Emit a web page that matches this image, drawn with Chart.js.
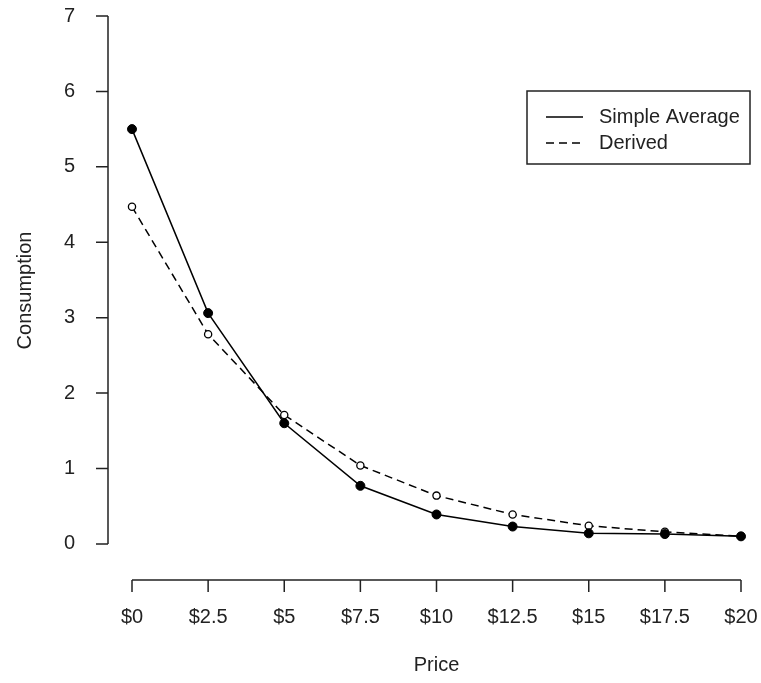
<!DOCTYPE html>
<html>
<head>
<meta charset="utf-8">
<script src="https://cdn.jsdelivr.net/npm/chart.js@4.4.1/dist/chart.umd.min.js"></script>
<style>
  html, body { margin: 0; padding: 0; background: #fff; }
  #wrap { width: 761px; height: 683px; position: relative; }
</style>
</head>
<body>
<div id="wrap"><canvas id="myChart"></canvas></div>
<script>
// Data
const prices = [0, 2.5, 5, 7.5, 10, 12.5, 15, 17.5, 20];
const simpleAverage = [5.5, 3.06, 1.6, 0.77, 0.39, 0.23, 0.14, 0.13, 0.1];
const derived = [4.47, 2.78, 1.71, 1.04, 0.64, 0.39, 0.24, 0.16, 0.1];
const xTicks = [0, 2.5, 5, 7.5, 10, 12.5, 15, 17.5, 20];
const yTicks = [0, 1, 2, 3, 4, 5, 6, 7];

const FONT = "'Liberation Sans', Arial, sans-serif";
const INK = '#222';

// R-style detached axes + boxed legend
const rAxes = {
    id: 'rAxes',
    afterDraw(chart) {
        const { ctx, chartArea, scales: { x, y } } = chart;
        ctx.save();
        ctx.strokeStyle = INK;
        ctx.lineWidth = 1.5;

        // y axis, sits a bit left of the plot
        const yx = chartArea.left - 24;
        ctx.beginPath();
        ctx.moveTo(yx, y.getPixelForValue(yTicks[0]));
        ctx.lineTo(yx, y.getPixelForValue(yTicks[yTicks.length - 1]));
        yTicks.forEach(v => {
            const py = y.getPixelForValue(v);
            ctx.moveTo(yx, py);
            ctx.lineTo(yx - 12, py);
        });
        ctx.stroke();

        // x axis, sits below the plot
        const xy = chartArea.bottom + 15;
        ctx.beginPath();
        ctx.moveTo(x.getPixelForValue(xTicks[0]), xy);
        ctx.lineTo(x.getPixelForValue(xTicks[xTicks.length - 1]), xy);
        xTicks.forEach(v => {
            const px = x.getPixelForValue(v);
            ctx.moveTo(px, xy);
            ctx.lineTo(px, xy + 12);
        });
        ctx.stroke();

        // legend box
        const bx = 527, by = 91, bw = 223, bh = 73;
        ctx.lineWidth = 1.5;
        ctx.strokeRect(bx, by, bw, bh);
        ctx.font = '20px ' + FONT;
        ctx.fillStyle = INK;
        ctx.textBaseline = 'middle';
        chart.data.datasets.forEach((ds, i) => {
            const ly = by + 26 + i * 26;
            ctx.beginPath();
            ctx.setLineDash(ds.borderDash || []);
            ctx.lineWidth = ds.borderWidth;
            ctx.strokeStyle = ds.borderColor;
            ctx.moveTo(bx + 19, ly);
            ctx.lineTo(bx + 56, ly);
            ctx.stroke();
            ctx.setLineDash([]);
            ctx.fillText(ds.label, bx + 72, ly);
        });
        ctx.restore();
    }
};

// keep tick labels from pushing the plot area around
function noPad(s) {
    s.paddingTop = 0;
    s.paddingBottom = 0;
    s.paddingLeft = 0;
    s.paddingRight = 0;
}

const ctx = document.getElementById('myChart').getContext('2d');

const chart = new Chart(ctx, {
    type: 'line',
    data: {
        labels: prices,
        datasets: [{
            label: 'Simple Average',
            data: prices.map((p, i) => ({ x: p, y: simpleAverage[i] })),
            borderColor: '#000',
            backgroundColor: '#000',
            borderWidth: 1.5,
            pointRadius: 4.5,
            pointBorderWidth: 1,
            pointBackgroundColor: '#000',
            pointBorderColor: '#000',
            tension: 0,
            clip: false
        }, {
            label: 'Derived',
            data: prices.map((p, i) => ({ x: p, y: derived[i] })),
            borderColor: '#000',
            backgroundColor: '#fff',
            borderWidth: 1.5,
            borderDash: [8, 5],
            pointRadius: 3.6,
            pointBorderWidth: 1.3,
            pointBackgroundColor: '#fff',
            pointBorderColor: '#000',
            tension: 0,
            clip: false
        }]
    },
    options: {
        responsive: true,
        maintainAspectRatio: false,
        animation: false,
        layout: {
            padding: { top: 16, right: 20, left: 0, bottom: 0 }
        },
        scales: {
            x: {
                type: 'linear',
                min: 0,
                max: 20,
                afterBuildTicks: s => { s.ticks = xTicks.map(v => ({ value: v })); },
                afterFit: s => { s.height = 118; noPad(s); },
                grid: { display: false },
                border: { display: false },
                ticks: {
                    padding: 32,
                    maxRotation: 0,
                    autoSkip: false,
                    color: INK,
                    font: { family: FONT, size: 20 },
                    callback: v => '$' + v
                },
                title: {
                    display: true,
                    text: 'Price',
                    color: INK,
                    font: { family: FONT, size: 20 },
                    padding: { top: 0, bottom: 6 }
                }
            },
            y: {
                type: 'linear',
                min: -0.28,
                max: 7,
                afterBuildTicks: s => { s.ticks = yTicks.map(v => ({ value: v })); },
                afterFit: s => { s.width = 132; noPad(s); },
                grid: { display: false },
                border: { display: false },
                ticks: {
                    padding: 49,
                    color: INK,
                    font: { family: FONT, size: 20 }
                },
                title: {
                    display: true,
                    text: 'Consumption',
                    color: INK,
                    font: { family: FONT, size: 20 },
                    padding: { top: 13, bottom: 0 }
                }
            }
        },
        plugins: {
            legend: { display: false },
            tooltip: { enabled: false }
        }
    },
    plugins: [rAxes]
});
</script>
</body>
</html>
